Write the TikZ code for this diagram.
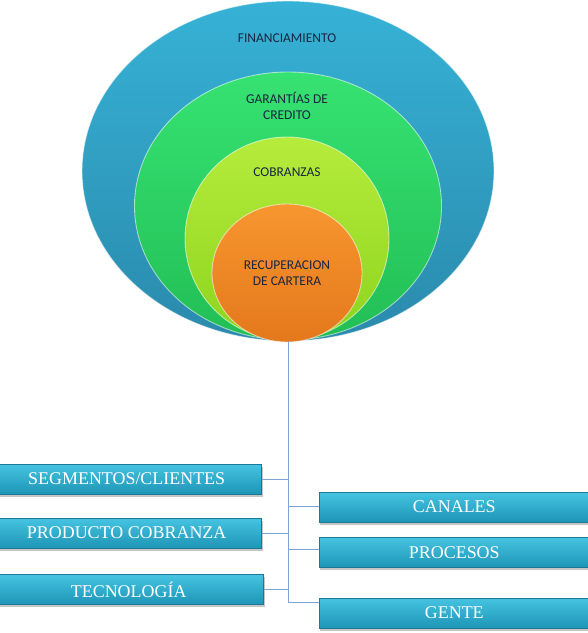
\documentclass[tikz,border=0pt]{standalone}
\usepackage{fontspec}
\setmainfont{Liberation Serif}
\newfontfamily\calib{Carlito}
\usetikzlibrary{shapes.geometric,shadows}

\definecolor{navytxt}{HTML}{1A2640}
\definecolor{lineblue}{HTML}{7FA3D6}
\definecolor{boxtop}{HTML}{46C4E2}
\definecolor{boxbot}{HTML}{1E95B6}
\definecolor{boxedge}{HTML}{1A7A96}
\definecolor{fintop}{HTML}{36B2D6}
\definecolor{finbot}{HTML}{2A8AAC}
\definecolor{gartop}{HTML}{36E272}
\definecolor{garbot}{HTML}{22BE55}
\definecolor{cobtop}{HTML}{B6EC3C}
\definecolor{cobbot}{HTML}{8CD41E}
\definecolor{rectop}{HTML}{F7962F}
\definecolor{recbot}{HTML}{E4781C}

\begin{document}
\begin{tikzpicture}[x=1bp, y=-1bp,
  ring/.style={ellipse, inner sep=0pt, draw=white, draw opacity=0.55, line width=0.9pt},
  lbl/.style={font=\calib\fontsize{13.5}{15.5}\selectfont, text=navytxt, align=center},
  box/.style={rectangle, inner sep=0pt, minimum width=270bp, minimum height=30bp,
    top color=boxtop, bottom color=boxbot, draw=boxedge, line width=0.6pt,
    font=\fontsize{18}{20}\selectfont, text=white,
    drop shadow={shadow xshift=1bp, shadow yshift=-2.5bp, opacity=0.45}},
  conn/.style={draw=lineblue, line width=0.8pt}]
  \useasboundingbox (0,0) rectangle (588,633);

  % circulos concentricos
  \node[ring, minimum width=412bp, minimum height=340bp,
    top color=fintop, bottom color=finbot] (fin) at (288,171) {};
  \node[ring, minimum width=307bp, minimum height=268bp,
    top color=gartop, bottom color=garbot] (gar) at (288,206) {};
  \node[ring, minimum width=204bp, minimum height=203bp,
    top color=cobtop, bottom color=cobbot] (cob) at (287,238.5) {};
  \node[ring, minimum width=150bp, minimum height=138bp,
    top color=rectop, bottom color=recbot] (rec) at (287,273) {};

  \node[lbl] (lfin) at (287,38) {FINANCIAMIENTO};
  \node[lbl] (lgar) at (287,106) {GARANTÍAS DE\\CREDITO};
  \node[lbl] (lcob) at (287,172) {COBRANZAS};
  \node[lbl] (lrec) at (287,273) {RECUPERACION\\DE CARTERA};

  % cajas
  \node[box, anchor=east] (segm) at (262,479) {SEGMENTOS/CLIENTES};
  \node[box, anchor=east] (prod) at (262,533) {PRODUCTO COBRANZA};
  \node[box, anchor=east] (tecn) at (264,589.5) {TECNOLOGÍA};
  \node[box, anchor=west] (cana) at (319,507) {CANALES};
  \node[box, anchor=west] (proc) at (319,552.5) {PROCESOS};
  \node[box, anchor=west] (gent) at (319,613) {GENTE};

  % conectores
  \draw[conn] (fin.south) |- ([yshift=11bp]gent.west);
  \draw[conn] (segm.east) -- (segm.east -| fin.south);
  \draw[conn] (prod.east) -- (prod.east -| fin.south);
  \draw[conn] (tecn.east) -- (tecn.east -| fin.south);
  \draw[conn] ([yshift=1bp]cana.west) -- ([yshift=1bp]cana.west -| fin.south);
  \draw[conn] ([yshift=3bp]proc.west) -- ([yshift=3bp]proc.west -| fin.south);
\end{tikzpicture}
\end{document}
